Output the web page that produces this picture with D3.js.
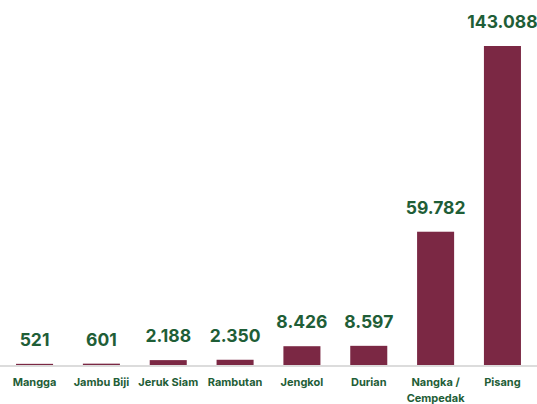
<!DOCTYPE html>
<html>
<head>
<meta charset="utf-8">
<script src="https://cdn.jsdelivr.net/npm/d3@7"></script>
<style>
  body { margin: 0; background: #fff; }
  svg { display: block; font-family: Inter, "Open Sans", sans-serif; }
</style>
</head>
<body>
<svg></svg>
<script>
// Data
let categories = ['Mangga', 'Jambu Biji', 'Jeruk Siam', 'Rambutan', 'Jengkol', 'Durian', 'Nangka / Cempedak', 'Pisang']
let values = [521, 601, 2188, 2350, 8426, 8597, 59782, 143088]
let valueLabels = ['521', '601', '2.188', '2.350', '8.426', '8.597', '59.782', '143.088']

// Graph Dimensions
let width = 537
let height = 404
let baseline = 365
let plotTop = 46

let data = categories.map((c, i) => ({ cat: c, value: values[i], label: valueLabels[i] }))

// Scales
let x = d3.scaleBand()
    .domain(categories)
    .range([0, width])
    .paddingInner(0.446)
    .paddingOuter(0.24)

let y = d3.scaleLinear()
    .domain([0, d3.max(values)])
    .range([baseline, plotTop])

let svg = d3.select('svg')
    .attr('width', width)
    .attr('height', height)

// Baseline
svg.append('line')
    .attr('x1', 0)
    .attr('x2', width)
    .attr('y1', baseline + 1)
    .attr('y2', baseline + 1)
    .attr('stroke', '#dcdcdc')
    .attr('stroke-width', 2)

// Bars
svg.selectAll('rect.bar')
    .data(data)
    .enter()
    .append('rect')
    .attr('class', 'bar')
    .attr('x', d => x(d.cat))
    .attr('y', d => y(d.value))
    .attr('width', x.bandwidth())
    .attr('height', d => baseline - y(d.value))
    .attr('fill', '#7b2844')

// Value labels
svg.selectAll('text.value')
    .data(data)
    .enter()
    .append('text')
    .attr('class', 'value')
    .attr('x', d => x(d.cat) + x.bandwidth() / 2)
    .attr('y', d => y(d.value) - 18)
    .attr('text-anchor', 'middle')
    .attr('fill', '#1f5e37')
    .style('font-size', '17.5px')
    .style('font-weight', 700)
    .text(d => d.label)

// Category labels (wrap on " / ")
let catText = svg.selectAll('text.cat')
    .data(data)
    .enter()
    .append('text')
    .attr('class', 'cat')
    .attr('x', d => x(d.cat) + x.bandwidth() / 2)
    .attr('y', 386)
    .attr('text-anchor', 'middle')
    .attr('fill', '#1f5e37')
    .style('font-size', '11px')
    .style('font-weight', 700)

catText.each(function(d) {
    let parts = d.cat.includes(' / ') ? [d.cat.split(' / ')[0] + ' /', d.cat.split(' / ')[1]] : [d.cat]
    let t = d3.select(this)
    parts.forEach((p, i) => {
        t.append('tspan')
            .attr('x', x(d.cat) + x.bandwidth() / 2)
            .attr('dy', i === 0 ? 0 : 16)
            .text(p)
    })
})
</script>
</body>
</html>
